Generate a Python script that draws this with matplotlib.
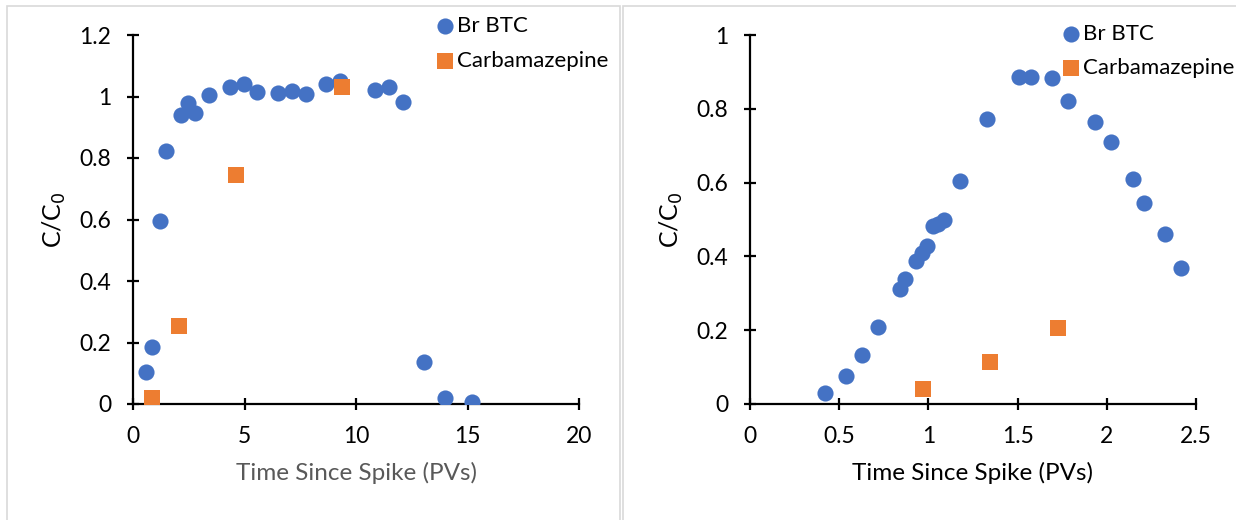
import matplotlib
matplotlib.use("Agg")
import matplotlib.pyplot as plt
from matplotlib.patches import Rectangle

plt.rcParams['font.family'] = ['Lato', 'DejaVu Sans']

# Left panel data
left_br_x = [0.60, 0.87, 1.22, 1.47, 2.16, 2.48, 2.80, 3.42, 4.36, 4.96, 5.55, 6.49, 7.11, 7.75,
             8.65, 9.29, 10.85, 11.49, 12.09, 13.03, 13.97, 15.21]
left_br_y = [0.105, 0.185, 0.596, 0.824, 0.941, 0.979, 0.947, 1.005, 1.030, 1.040, 1.016, 1.010,
             1.019, 1.007, 1.042, 1.052, 1.020, 1.031, 0.982, 0.137, 0.018, 0.005]
left_cbz_x = [0.87, 2.07, 4.61, 9.36]
left_cbz_y = [0.018, 0.254, 0.746, 1.030]

# Right panel data
right_br_x = [0.421, 0.539, 0.629, 0.720, 0.840, 0.871, 0.931, 0.964, 0.993, 1.024, 1.053, 1.086,
              1.175, 1.328, 1.509, 1.574, 1.691, 1.780, 1.933, 2.023, 2.145, 2.207, 2.327, 2.418]
right_br_y = [0.029, 0.075, 0.134, 0.210, 0.312, 0.339, 0.388, 0.409, 0.427, 0.482, 0.488, 0.499,
              0.604, 0.773, 0.886, 0.885, 0.883, 0.822, 0.765, 0.709, 0.609, 0.546, 0.462, 0.368]
right_cbz_x = [0.968, 1.348, 1.729]
right_cbz_y = [0.042, 0.115, 0.207]

left_xticks = [0, 5, 10, 15, 20]
left_yticks = [0, 0.2, 0.4, 0.6, 0.8, 1, 1.2]
left_yticklabels = ['0', '0.2', '0.4', '0.6', '0.8', '1', '1.2']
right_xticks = [0, 0.5, 1, 1.5, 2, 2.5]
right_xticklabels = ['0', '0.5', '1', '1.5', '2', '2.5']
right_yticks = [0, 0.2, 0.4, 0.6, 0.8, 1]
right_yticklabels = ['0', '0.2', '0.4', '0.6', '0.8', '1']

BLUE = '#4472C4'
ORANGE = '#ED7D31'

fig = plt.figure(figsize=(12.36, 5.2), dpi=100)

# panel borders
fig.patches.append(Rectangle((7/1236, -0.05), (620-7)/1236, 1.05 - 5.5/520,
                             transform=fig.transFigure, fill=False, edgecolor='#d9d9d9', lw=1.2))
fig.patches.append(Rectangle((623/1236, -0.05), (1240-623)/1236, 1.05 - 5.5/520,
                             transform=fig.transFigure, fill=False, edgecolor='#d9d9d9', lw=1.2))

ax1 = fig.add_axes([133/1236, 1-404/520, (579-133)/1236, (404-35)/520])
ax2 = fig.add_axes([750/1236, 1-404/520, (1196-750)/1236, (404-35)/520])

def style(ax):
    for s in ['top', 'right']:
        ax.spines[s].set_visible(False)
    for s in ['left', 'bottom']:
        ax.spines[s].set_linewidth(1.6)
        ax.spines[s].set_color('black')
    ax.tick_params(direction='inout', length=9, width=1.6, labelsize=16.5, colors='black')
    ax.tick_params(axis='y', pad=11)
    ax.tick_params(axis='x', pad=11)
    ax.set_ylabel('C/C$_0$', fontsize=18, labelpad=8)

ms_c = 135
ms_s = 120

ax1.scatter(left_br_x, left_br_y, s=ms_c, color=BLUE, marker='o', label='Br BTC', zorder=3, linewidths=0)
ax1.scatter(left_cbz_x, left_cbz_y, s=ms_s, color=ORANGE, marker='s', label='Carbamazepine', zorder=3, linewidths=0)
ax1.set_xlim(0, 20)
ax1.set_ylim(0, 1.2)
ax1.set_xticks(left_xticks)
ax1.set_yticks(left_yticks)
ax1.set_yticklabels(left_yticklabels)
style(ax1)
ax1.set_xlabel('Time Since Spike (PVs)', fontsize=17.5, color='#595959', labelpad=11)
ax1.legend(loc='upper left', bbox_to_anchor=(0.655, 1.075), frameon=False, fontsize=16,
           handletextpad=0.05, labelspacing=0.65, borderaxespad=0, handlelength=1.0)

ax2.scatter(right_br_x, right_br_y, s=ms_c, color=BLUE, marker='o', label='Br BTC', zorder=3, linewidths=0)
ax2.scatter(right_cbz_x, right_cbz_y, s=ms_s, color=ORANGE, marker='s', label='Carbamazepine', zorder=3, linewidths=0)
ax2.set_xlim(0, 2.5)
ax2.set_ylim(0, 1)
ax2.set_xticks(right_xticks)
ax2.set_xticklabels(right_xticklabels)
ax2.set_yticks(right_yticks)
ax2.set_yticklabels(right_yticklabels)
style(ax2)
ax2.set_xlabel('Time Since Spike (PVs)', fontsize=17.5, color='black', labelpad=11)
ax2.legend(loc='upper left', bbox_to_anchor=(0.675, 1.055), frameon=False, fontsize=16,
           handletextpad=0.05, labelspacing=0.65, borderaxespad=0, handlelength=1.0)

fig.savefig('out.png', dpi=100)
